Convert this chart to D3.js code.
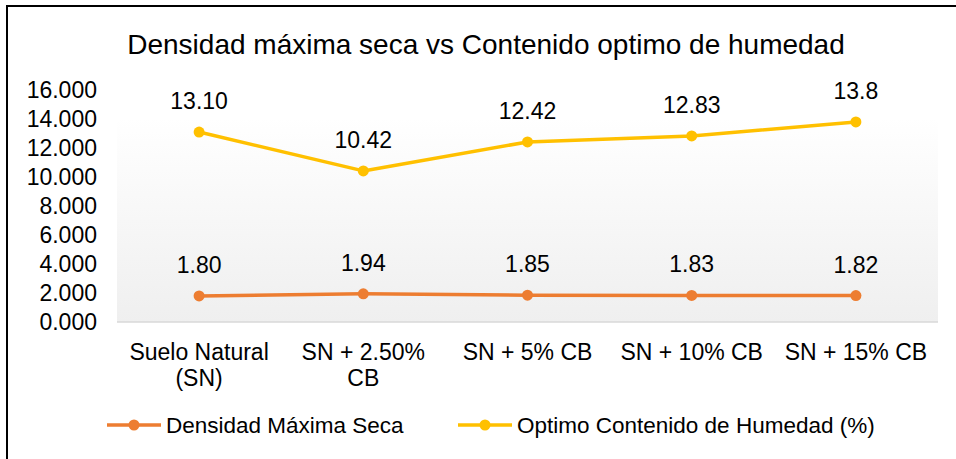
<!DOCTYPE html>
<html>
<head>
<meta charset="utf-8">
<script src="https://cdn.jsdelivr.net/npm/d3@7"></script>
<style>
  body { margin: 0; background: #fff; }
  text { font-family: "Liberation Sans", Arial, sans-serif; fill: #000; }
</style>
</head>
<body>
<script>
// data
const categories = [["Suelo Natural", "(SN)"], ["SN + 2.50%", "CB"], ["SN + 5% CB"], ["SN + 10% CB"], ["SN + 15% CB"]];
const densidad = [1.80, 1.94, 1.85, 1.83, 1.82];
const densidadLabels = ["1.80", "1.94", "1.85", "1.83", "1.82"];
const humedad = [13.10, 10.42, 12.42, 12.83, 13.8];
const humedadLabels = ["13.10", "10.42", "12.42", "12.83", "13.8"];
const yTicks = [0, 2, 4, 6, 8, 10, 12, 14, 16];
const seriesNames = ["Densidad Máxima Seca", "Optimo Contenido de Humedad (%)"];
const colors = ["#ED7D31", "#FFC000"];

let width = 956, height = 459;
let plot = { left: 117, right: 938, top: 90, bottom: 322 };

let svg = d3.select("body").append("svg")
    .attr("width", width)
    .attr("height", height);

// outer border (right/bottom fall outside the picture)
svg.append("rect")
    .attr("x", 7).attr("y", 6)
    .attr("width", 960).attr("height", 470)
    .attr("fill", "white")
    .attr("stroke", "#000")
    .attr("stroke-width", 2);

// plot background gradient
let defs = svg.append("defs");
let grad = defs.append("linearGradient")
    .attr("id", "bg").attr("x1", 0).attr("y1", 0).attr("x2", 0).attr("y2", 1);
grad.append("stop").attr("offset", "0%").attr("stop-color", "#ffffff");
grad.append("stop").attr("offset", "12%").attr("stop-color", "#ffffff");
grad.append("stop").attr("offset", "100%").attr("stop-color", "#efefef");

svg.append("rect")
    .attr("x", plot.left).attr("y", plot.top)
    .attr("width", plot.right - plot.left).attr("height", plot.bottom - plot.top)
    .attr("fill", "url(#bg)");

// title
svg.append("text")
    .attr("x", 486).attr("y", 54)
    .attr("text-anchor", "middle")
    .attr("font-size", "28px")
    .text("Densidad máxima seca vs Contenido optimo de humedad");

// scales
let x = d3.scaleBand()
    .domain(d3.range(categories.length))
    .range([plot.left, plot.right]);
let y = d3.scaleLinear()
    .domain([0, 16])
    .range([plot.bottom, plot.top]);
const cx = i => x(i) + x.bandwidth() / 2;

// y axis
let yAxis = svg.append("g")
    .attr("transform", `translate(${plot.left - 20},0)`)
    .call(d3.axisLeft(y).tickValues(yTicks).tickFormat(d3.format(".3f")).tickSize(0).tickPadding(0));
yAxis.select(".domain").remove();
yAxis.selectAll("text")
    .attr("font-size", "23px")
    .attr("font-family", "Liberation Sans, Arial, sans-serif")
    .attr("fill", "#000");

// x axis baseline
svg.append("line")
    .attr("x1", plot.left).attr("x2", plot.right)
    .attr("y1", plot.bottom).attr("y2", plot.bottom)
    .attr("stroke", "#d9d9d9")
    .attr("stroke-width", 1.5);

// category labels
categories.forEach((lines, i) => {
    let t = svg.append("text")
        .attr("text-anchor", "middle")
        .attr("font-size", "23px");
    lines.forEach((l, j) => {
        t.append("tspan")
            .attr("x", cx(i))
            .attr("y", 360 + j * 26)
            .text(l);
    });
});

// series
let series = [
    { values: densidad, labels: densidadLabels, color: colors[0] },
    { values: humedad, labels: humedadLabels, color: colors[1] }
];
let line = d3.line().x((d, i) => cx(i)).y(d => y(d));

series.forEach(s => {
    svg.append("path")
        .datum(s.values)
        .attr("d", line)
        .attr("fill", "none")
        .attr("stroke", s.color)
        .attr("stroke-width", 3.5)
        .attr("stroke-linejoin", "round");
    svg.selectAll(null)
        .data(s.values)
        .enter().append("circle")
        .attr("cx", (d, i) => cx(i))
        .attr("cy", d => y(d))
        .attr("r", 5.5)
        .attr("fill", s.color);
    svg.selectAll(null)
        .data(s.values)
        .enter().append("text")
        .attr("x", (d, i) => cx(i))
        .attr("y", d => y(d) - 23)
        .attr("text-anchor", "middle")
        .attr("font-size", "23px")
        .text((d, i) => s.labels[i]);
});

// legend
let legendX = [107, 458];
seriesNames.forEach((name, i) => {
    let g = svg.append("g").attr("transform", `translate(${legendX[i]},425)`);
    g.append("line")
        .attr("x1", 0).attr("x2", 54)
        .attr("stroke", colors[i])
        .attr("stroke-width", 3.5);
    g.append("circle")
        .attr("cx", 27).attr("r", 5.5)
        .attr("fill", colors[i]);
    g.append("text")
        .attr("x", 59).attr("y", 8)
        .attr("font-size", "22.5px")
        .text(name);
});
</script>
</body>
</html>
